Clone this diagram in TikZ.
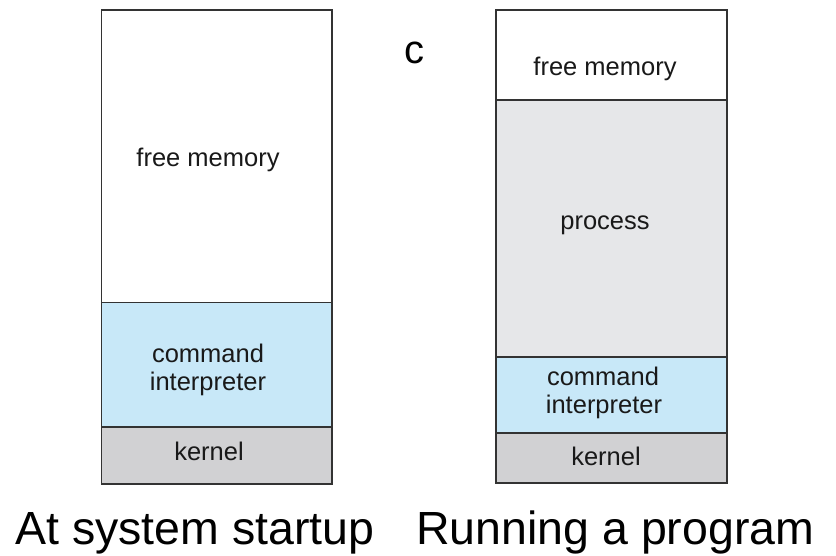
\documentclass[tikz,border=0pt]{standalone}
\usepackage{fontspec}
\setmainfont{Liberation Sans}
\definecolor{cmdblue}{HTML}{C8E8F8}
\definecolor{kernelgray}{HTML}{D1D1D3}
\definecolor{procgray}{HTML}{E6E7E9}
\definecolor{edge}{HTML}{333333}
\begin{document}
\begin{tikzpicture}[x=1pt,y=-1pt,
  region/.style={draw=edge,line width=1.4pt},
  lbl/.style={inner sep=0pt,anchor=base,font=\fontsize{25.5}{28}\selectfont,text=black!90},
  caption/.style={inner sep=0pt,anchor=base west,font=\fontsize{46.5}{50}\selectfont}]
\useasboundingbox (0,0) rectangle (836,555);

% memory map at system startup
\path[region,fill=white]       (101.5,10)  rectangle (332,302.5);
\path[region,fill=cmdblue]     (101.5,302.5) rectangle (332,427);
\path[region,fill=kernelgray]  (101.5,427) rectangle (332,484);
\node[lbl] (freeA)   at (208,166) {free memory};
\node[lbl] (cmdA)    at (208,362) {command};
\node[lbl] (interpA) at (208,390) {interpreter};
\node[lbl] (kernA)   at (209,460) {kernel};

% memory map while a program runs
\path[region,fill=white]       (496,10)  rectangle (727,100);
\path[region,fill=procgray]    (496,100) rectangle (727,357);
\path[region,fill=cmdblue]     (496,357) rectangle (727,433);
\path[region,fill=kernelgray]  (496,433) rectangle (727,483);
\node[lbl] (freeB)   at (605,75)  {free memory};
\node[lbl] (procB)   at (605,229) {process};
\node[lbl] (cmdB)    at (603,385) {command};
\node[lbl] (interpB) at (604,413) {interpreter};
\node[lbl] (kernB)   at (606,465) {kernel};

\node[inner sep=0pt,anchor=base,font=\fontsize{40}{42}\selectfont] (cmark) at (414,63) {c};

\node[caption] (capA) at (15,544)  {At system startup};
\node[caption] (capB) at (416,544) {Running a program};
\end{tikzpicture}
\end{document}
